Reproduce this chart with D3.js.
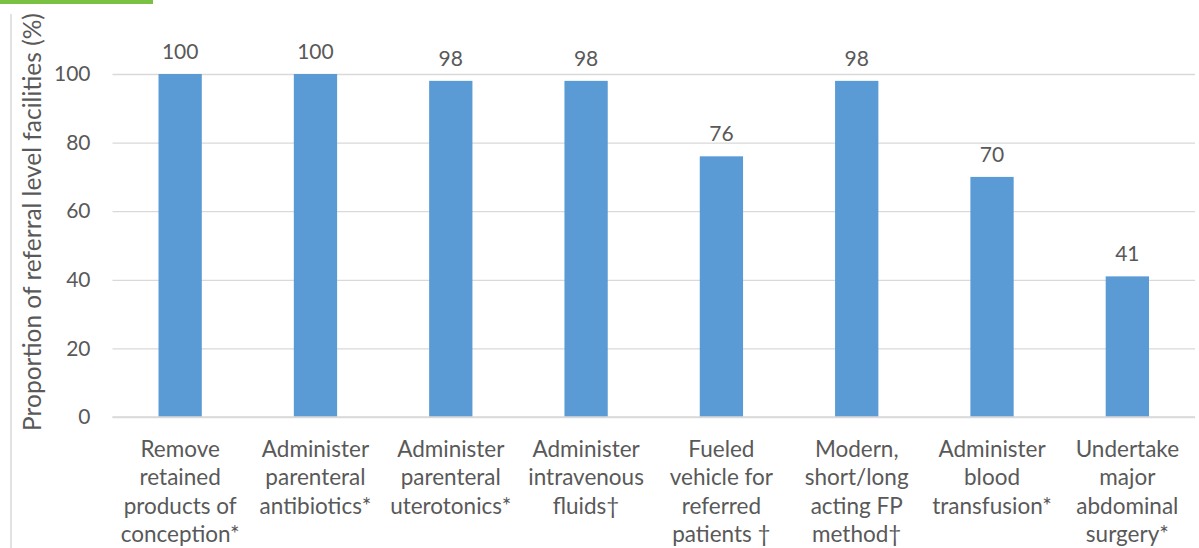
<!DOCTYPE html>
<html>
<head>
<meta charset="utf-8">
<script src="https://cdn.jsdelivr.net/npm/d3@7"></script>
<style>
  html, body { margin: 0; padding: 0; background: #fff; }
  svg { display: block; }
  text { font-family: Lato, "Open Sans", sans-serif; fill: #595959; }
</style>
</head>
<body>
<svg id="chart" width="1199" height="548"></svg>
<script>
// Services available at referral level facilities
const categories = [
  ["Remove", "retained", "products of", "conception*"],
  ["Administer", "parenteral", "antibiotics*"],
  ["Administer", "parenteral", "uterotonics*"],
  ["Administer", "intravenous", "fluids\u2020"],
  ["Fueled", "vehicle for", "referred", "patients \u2020"],
  ["Modern,", "short/long", "acting FP", "method\u2020"],
  ["Administer", "blood", "transfusion*"],
  ["Undertake", "major", "abdominal", "surgery*"]
];
const values = [100, 100, 98, 98, 76, 98, 70, 41];
const yTicks = [0, 20, 40, 60, 80, 100];
const yTitle = "Proportion of referral level facilities (%)";

const svg = d3.select("#chart");
const plot = { left: 112.5, right: 1195, top: 74, bottom: 417 };

const x = d3.scaleBand()
  .domain(d3.range(categories.length))
  .range([plot.left, plot.right])
  .paddingInner(0.68)
  .paddingOuter(0.34);

const y = d3.scaleLinear().domain([0, 100]).range([plot.bottom, plot.top]);

// header accent and left rule
svg.append("rect").attr("x", 0).attr("y", 0).attr("width", 153).attr("height", 4).attr("fill", "#7AC143");
svg.append("line").attr("x1", 11).attr("x2", 11).attr("y1", 14).attr("y2", 548)
  .attr("stroke", "#D9D9D9").attr("stroke-width", 1.5);

// gridlines
const yAxis = d3.axisLeft(y).tickValues(yTicks).tickSize(-(plot.right - plot.left)).tickPadding(22);
const gy = svg.append("g").attr("transform", `translate(${plot.left},0)`).call(yAxis);
gy.select(".domain").remove();
gy.selectAll(".tick line").attr("stroke", "#D9D9D9").attr("stroke-width", 1.3);
gy.selectAll(".tick text").attr("font-size", 21).style("font-family", "Lato, sans-serif").attr("fill", "#595959");

// bars
svg.append("g").selectAll("rect").data(values).join("rect")
  .attr("x", (d, i) => x(i))
  .attr("y", d => y(d))
  .attr("width", x.bandwidth())
  .attr("height", d => y(0) - y(d))
  .attr("fill", "#5B9BD5");

// value labels
svg.append("g").selectAll("text").data(values).join("text")
  .attr("x", (d, i) => x(i) + x.bandwidth() / 2)
  .attr("y", d => y(d) - 15)
  .attr("text-anchor", "middle")
  .attr("font-size", 21)
  .text(d => d);

// baseline
svg.append("line").attr("x1", plot.left).attr("x2", plot.right)
  .attr("y1", y(0)).attr("y2", y(0)).attr("stroke", "#D9D9D9").attr("stroke-width", 1.3);

// category labels
const catG = svg.append("g").selectAll("text").data(categories).join("text")
  .attr("text-anchor", "middle")
  .attr("font-size", 22.5);
catG.each(function(lines, i) {
  const t = d3.select(this);
  lines.forEach((ln, k) => {
    t.append("tspan")
      .attr("x", x(i) + x.bandwidth() / 2)
      .attr("y", 457 + k * 28.3)
      .text(ln);
  });
});

// y axis title
svg.append("text")
  .attr("transform", `translate(41, ${222}) rotate(-90)`)
  .attr("text-anchor", "middle")
  .attr("font-size", 24.5)
  .text(yTitle);
</script>
</body>
</html>
